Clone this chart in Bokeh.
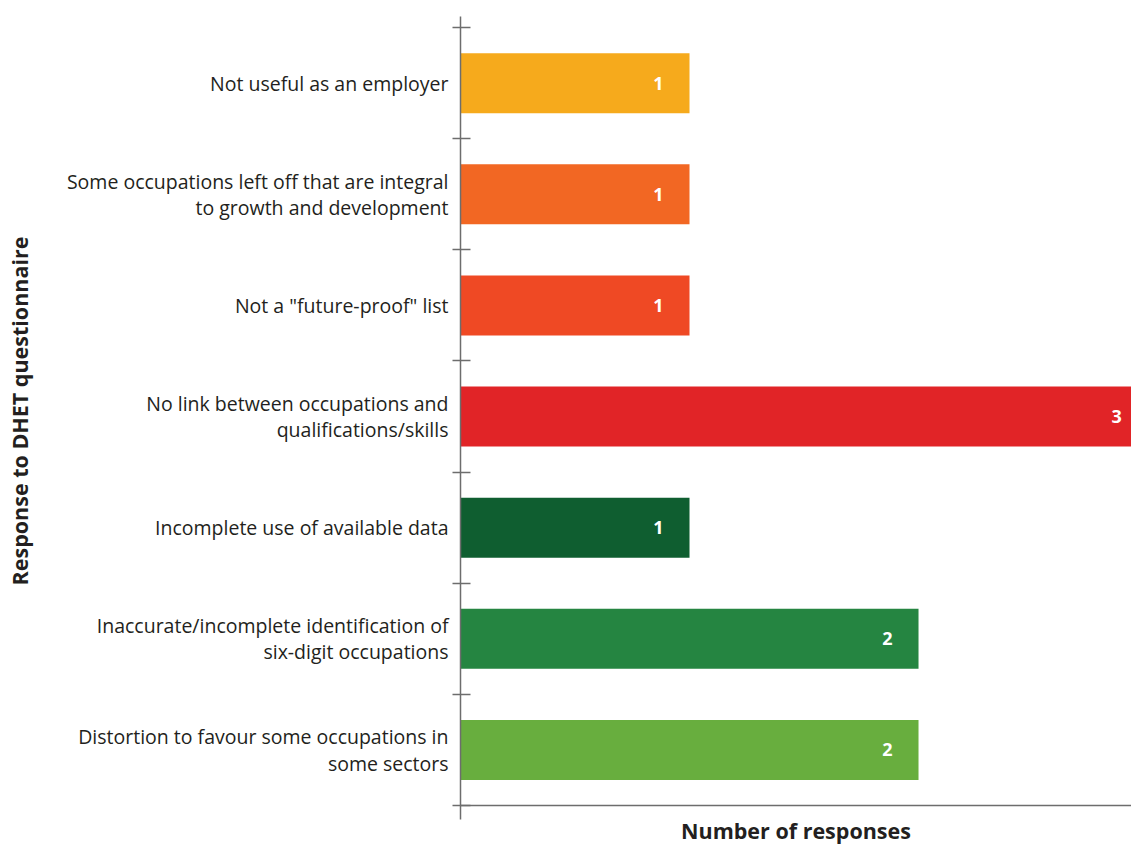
from bokeh.plotting import figure
from bokeh.models import Range1d, FixedTicker, ColumnDataSource
from bokeh.core.properties import value
from bokeh.embed import file_html
from bokeh.resources import INLINE

categories = [
    "Not useful as an employer",
    "Some occupations left off that are integral\nto growth and development",
    "Not a \"future-proof\" list",
    "No link between occupations and\nqualifications/skills",
    "Incomplete use of available data",
    "Inaccurate/incomplete identification of\nsix-digit occupations",
    "Distortion to favour some occupations in\nsome sectors",
]
responses = [1, 1, 1, 3, 1, 2, 2]
colors = ["#F6AA1C", "#F26723", "#EF4924", "#E12427", "#0F5E30", "#258541", "#68AE3E"]

n = len(categories)
ypos = [n - 1 - i for i in range(n)]
labels = [str(v) for v in responses]

src = ColumnDataSource(dict(y=ypos, v=responses, c=colors, t=labels))

FONT = "Open Sans"

p = figure(width=1131, height=847, output_backend="svg", toolbar_location=None,
           x_range=Range1d(0, 2.93), y_range=Range1d(-0.5, 6.6),
           min_border_left=460, min_border_top=16, min_border_right=0, min_border_bottom=41)
p.outline_line_color = None
p.grid.visible = False
p.background_fill_color = "white"

p.hbar(y="y", right="v", left=0, height=0.54, fill_color="c", line_color=None, source=src)
p.text(x="v", y="y", text="t", x_offset=-31, text_align="center", text_baseline="middle",
       text_color="white", text_font=value(FONT), text_font_style="bold",
       text_font_size="18px", source=src)

ya = p.yaxis[0]
ya.ticker = FixedTicker(ticks=ypos, minor_ticks=[i - 0.5 for i in range(n + 1)])
ya.major_label_overrides = {y: c for y, c in zip(ypos, categories)}
ya.major_tick_in = 0
ya.major_tick_out = 0
ya.minor_tick_in = 10
ya.minor_tick_out = 8
ya.minor_tick_line_color = "#6D6D6D"
ya.minor_tick_line_width = 1.5
ya.axis_line_color = "#6D6D6D"
ya.axis_line_width = 1.5
ya.major_label_standoff = 4
ya.major_label_text_font = FONT
ya.major_label_text_font_size = "19.5px"
ya.major_label_text_line_height = 0.97
ya.major_label_text_color = "#231F20"
ya.axis_label = "Response to DHET questionnaire"
ya.axis_label_standoff = 30
ya.axis_label_text_font = FONT
ya.axis_label_text_font_style = "bold"
ya.axis_label_text_font_size = "21.5px"
ya.axis_label_text_color = "#231F20"

xa = p.xaxis[0]
xa.ticker = FixedTicker(ticks=[0], minor_ticks=[])
xa.major_tick_in = 0
xa.major_tick_out = 14
xa.major_tick_line_color = "#6D6D6D"
xa.major_tick_line_width = 1.5
xa.axis_line_color = "#6D6D6D"
xa.axis_line_width = 1.5
xa.major_label_overrides = {0: ""}
xa.major_label_standoff = 0
xa.axis_label = "Number of responses"
xa.axis_label_standoff = -4
xa.axis_label_text_font = FONT
xa.axis_label_text_font_style = "bold"
xa.axis_label_text_font_size = "21.5px"
xa.axis_label_text_color = "#231F20"

open("out.html", "w").write(file_html(p, INLINE))
